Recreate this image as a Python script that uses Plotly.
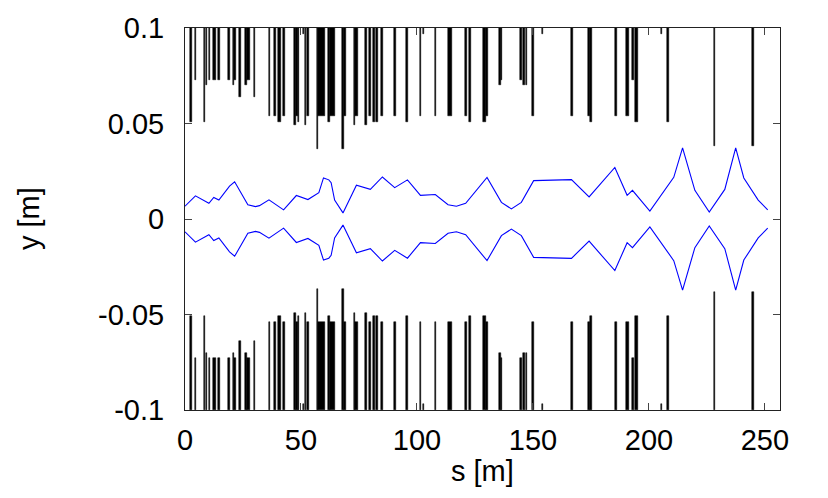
import plotly.graph_objects as go

# Aperture elements: start s [m], end s [m], half-aperture [m]
elem_s0 = [2.0, 4.1, 8.3, 8.9, 10.2, 12.2, 14.3, 18.6, 20.5, 21.2, 23.4, 26.0, 26.7, 29.9,
           36.0, 38.2, 39.9, 42.1, 46.8, 47.7, 48.5, 50.8, 51.6, 52.5, 56.9, 57.5, 61.5,
           62.3, 67.6, 68.4, 72.7, 73.4, 77.4, 79.5, 81.0, 82.5, 84.5, 90.3, 95.1, 101.2,
           102.5, 107.6, 113.2, 120.6, 122.4, 128.3, 129.6, 135.2, 136.2, 144.6, 145.7,
           146.9, 149.8, 153.7, 166.4, 173.8, 174.8, 185.3, 190.3, 192.6, 193.9, 205.3,
           207.6, 227.9, 244.5]
elem_s1 = [2.9, 4.7, 8.8, 9.4, 10.9, 13.3, 14.9, 19.5, 21.2, 22.1, 24.1, 26.7, 28.1, 30.3,
           36.8, 39.2, 41.3, 43.2, 47.7, 48.5, 49.3, 51.4, 52.3, 53.4, 57.5, 60.5, 62.3,
           64.8, 68.4, 69.4, 73.4, 74.4, 78.3, 80.3, 81.9, 83.0, 85.3, 91.0, 96.1, 101.9,
           102.9, 108.4, 115.0, 121.6, 123.2, 129.6, 130.8, 136.2, 136.8, 145.3, 146.6,
           147.6, 150.6, 154.2, 167.3, 174.8, 175.5, 186.2, 191.6, 193.5, 195.3, 205.7,
           208.5, 228.4, 245.1]
elem_ap = [0.051, 0.073, 0.051, 0.070, 0.073, 0.073, 0.073, 0.073, 0.070, 0.073, 0.064,
           0.070, 0.073, 0.064, 0.054, 0.054, 0.051, 0.054, 0.049, 0.054, 0.051, 0.097,
           0.049, 0.054, 0.0365, 0.054, 0.051, 0.054, 0.0365, 0.054, 0.049, 0.054, 0.049,
           0.054, 0.051, 0.051, 0.054, 0.054, 0.051, 0.054, 0.097, 0.054, 0.054, 0.054,
           0.051, 0.051, 0.054, 0.070, 0.073, 0.073, 0.070, 0.070, 0.054, 0.097, 0.054,
           0.054, 0.051, 0.054, 0.054, 0.073, 0.051, 0.097, 0.051, 0.038, 0.038]

# Beam envelope (upper half; lower is mirrored)
env_s = [0, 4.5, 10.3, 12.4, 14.6, 19.2, 21.4, 27.1, 30.4, 32.1, 36.2, 42.5, 48.0, 53.0,
         57.7, 59.7, 62.0, 63.0, 64.5, 68.1, 73.9, 79.9, 85.1, 90.4, 95.9, 101.5, 107.9,
         113.4, 117.0, 121.0, 130.2, 136.4, 140.7, 145.0, 150.3, 166.6, 174.2, 185.3,
         190.6, 192.9, 200.4, 210.7, 214.5, 219.8, 226.0, 232.7, 237.4, 240.9, 247.1, 251.2]
env_y = [0.0067, 0.0121, 0.0082, 0.0113, 0.0099, 0.0172, 0.0195, 0.0075, 0.0065, 0.0070,
         0.0100, 0.0048, 0.0123, 0.0102, 0.0138, 0.0215, 0.0205, 0.0190, 0.0099, 0.0032,
         0.0177, 0.0155, 0.0220, 0.0164, 0.0205, 0.0124, 0.0128, 0.0075, 0.0067, 0.0082,
         0.0218, 0.0087, 0.0053, 0.0087, 0.0201, 0.0206, 0.0116, 0.0270, 0.0124, 0.0150,
         0.0041, 0.0218, 0.0372, 0.0150, 0.0036, 0.0155, 0.0372, 0.0215, 0.0099, 0.0048]

Y_MAX = 0.1
x_tick_vals = [0, 50, 100, 150, 200, 250]
y_tick_vals = [-0.1, -0.05, 0, 0.05, 0.1]
y_tick_text = ["-0.1", "-0.05", "0", "0.05", "0.1"]

centers = [(a + b) / 2 for a, b in zip(elem_s0, elem_s1)]
widths = [b - a for a, b in zip(elem_s0, elem_s1)]
heights = [Y_MAX - ap for ap in elem_ap]

fig = go.Figure()
bar_style = dict(marker=dict(color="black", line=dict(color="black", width=0.5)),
                 showlegend=False, hoverinfo="skip")
fig.add_trace(go.Bar(x=centers, y=heights, base=elem_ap, width=widths, **bar_style))
fig.add_trace(go.Bar(x=centers, y=heights, base=[-Y_MAX] * len(heights), width=widths,
                     **bar_style))
fig.add_trace(go.Scatter(x=env_s, y=env_y, mode="lines",
                         line=dict(color="#0000ff", width=1.1), showlegend=False))
fig.add_trace(go.Scatter(x=env_s, y=[-v for v in env_y], mode="lines",
                         line=dict(color="#0000ff", width=1.1), showlegend=False))

font_family = "Liberation Sans, Arial, sans-serif"
FS = 29
axis_common = dict(showgrid=False, zeroline=False, showline=True, mirror="ticks",
                   linecolor="#222", linewidth=1, ticks="inside", ticklen=7,
                   tickcolor="#444", tickwidth=1,
                   tickfont=dict(family=font_family, size=FS, color="black"))
fig.update_layout(
    width=828, height=498,
    margin=dict(l=185, r=48, t=20, b=88),
    paper_bgcolor="white", plot_bgcolor="white",
    barmode="overlay", bargap=0,
    xaxis=dict(range=[0, 256.5], tickvals=x_tick_vals, ticklabelstandoff=4, **axis_common),
    yaxis=dict(range=[-Y_MAX, Y_MAX], tickvals=y_tick_vals, ticktext=y_tick_text,
               ticklabelstandoff=14, **axis_common),
    annotations=[
        dict(text="s [m]", xref="paper", yref="paper", x=0.5, y=-0.16,
             showarrow=False, font=dict(family=font_family, size=FS, color="black"),
             xanchor="center", yanchor="middle"),
        dict(text="y [m]", xref="paper", yref="paper", x=-0.262, y=0.5, textangle=-90,
             showarrow=False, font=dict(family=font_family, size=FS, color="black"),
             xanchor="center", yanchor="middle"),
    ],
)
fig.write_html("out.html")
